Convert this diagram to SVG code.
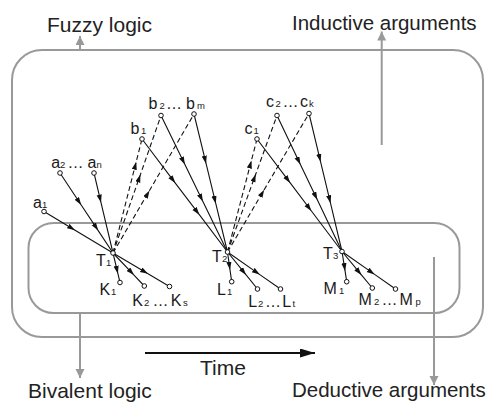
<svg xmlns="http://www.w3.org/2000/svg" width="500" height="408" viewBox="0 0 500 408">
<style>
.frame{fill:none;stroke:#999;stroke-width:2}
.garrow{fill:none;stroke:#999;stroke-width:2;marker-end:url(#gah)}
.edge{fill:none;stroke:#111;stroke-width:1.1;marker-mid:url(#ah)}
.dash{stroke-dasharray:5 3}
.node{fill:#fff;stroke:#111;stroke-width:1}
text{font-family:"Liberation Sans",Arial,sans-serif;fill:#1a1a1a}
.lbl{font-size:16px}
.sub{font-size:9.5px}
.big{font-size:21px;fill:#222}
.big2{font-size:20.5px;fill:#222}
</style>
<defs>
<marker id="ah" markerUnits="userSpaceOnUse" markerWidth="9" markerHeight="6" refX="8" refY="2.6" orient="auto">
<path d="M0,0 L8,2.6 L0,5.2 z" fill="#111"/>
</marker>
<marker id="gah" markerUnits="userSpaceOnUse" markerWidth="10" markerHeight="10" refX="9" refY="4.5" orient="auto">
<path d="M0,0 L9,4.5 L0,9 z" fill="#999"/>
</marker>
<marker id="tah" markerUnits="userSpaceOnUse" markerWidth="16" markerHeight="10" refX="15" refY="4.5" orient="auto">
<path d="M0,0 L15,4.5 L0,9 z" fill="#111"/>
</marker>
</defs>

<g id="fuzzy-frame">
<rect class="frame" x="12" y="50" width="471" height="287" rx="30" ry="30"/>
</g>
<g id="bivalent-frame">
<rect class="frame" x="28.5" y="223" width="431" height="90" rx="25" ry="25"/>
</g>

<g id="labels">
<text class="big" x="47" y="32">Fuzzy logic</text>
<text class="big2" x="292" y="29.5">Inductive arguments</text>
<text class="big" x="28" y="398">Bivalent logic</text>
<text class="big2" x="292" y="397">Deductive arguments</text>
<text class="big" x="200" y="375">Time</text>
</g>

<g id="connectors">
<line class="garrow" x1="80" y1="50" x2="80" y2="36"/>
<line class="garrow" x1="381.7" y1="145" x2="381.7" y2="31.5"/>
<line class="garrow" x1="80" y1="313" x2="80" y2="378"/>
<line class="garrow" x1="434" y1="257" x2="434" y2="385"/>
<line x1="145" y1="353" x2="315" y2="353" stroke="#111" stroke-width="2.2" marker-end="url(#tah)"/>

<path class="edge" d="M44,211.5 L75.05,230.2 L113,253"/>
<path class="edge" d="M60,173 L81.2,205 L98.2,230.6 L113,253"/>
<path class="edge" d="M94,173 L101,202.6 L113,253"/>
<path class="edge" d="M142,139 L175.3,183.1 L199.3,214.7 L227.5,252"/>
<path class="edge" d="M161,115.5 L184.9,164.6 L202.9,201.5 L227.5,252"/>
<path class="edge" d="M194,114 L206.1,163.7 L215.8,203.7 L227.5,252"/>
<path class="edge" d="M257,139 L290.2,182.9 L311.4,211 L342,251.5"/>
<path class="edge" d="M277,115.5 L300.4,164.5 L317.3,199.8 L342,251.5"/>
<path class="edge" d="M309,113.5 L320.6,161.8 L330.5,203.2 L342,251.5"/>

<path class="edge dash" d="M113,253 L136.2,161.8 L142,139"/>
<path class="edge dash" d="M113,253 L140.4,174.6 L161,115.5"/>
<path class="edge dash" d="M113,253 L149.5,190.5 L194,114"/>
<path class="edge dash" d="M227.5,252 L251.4,160.5 L257,139"/>
<path class="edge dash" d="M227.5,252 L255.7,174.2 L277,115.5"/>
<path class="edge dash" d="M227.5,252 L264.2,189.7 L309,113.5"/>

<path class="edge" d="M113,253 L117.9,273.7 L120,282.5"/>
<path class="edge" d="M113,253 L134,275.1 L144.3,286"/>
<path class="edge" d="M113,253 L148,273.8 L169.5,286.5"/>
<path class="edge" d="M227.5,252 L230,269.8 L231.7,281.7"/>
<path class="edge" d="M227.5,252 L246.1,274.9 L257.5,289"/>
<path class="edge" d="M227.5,252 L259.8,274.6 L280.5,289"/>
<path class="edge" d="M342,251.5 L345.1,271.1 L346.7,281.7"/>
<path class="edge" d="M342,251.5 L361.4,274.9 L372.3,288"/>
<path class="edge" d="M342,251.5 L374.6,274.4 L395.5,289"/>
</g>

<g id="a1"><circle class="node" cx="44" cy="211.5" r="2.3"/>
<text class="lbl" y="208"><tspan x="33">a</tspan><tspan class="sub" x="42">1</tspan></text></g>
<g id="a2"><circle class="node" cx="60" cy="173" r="2.3"/></g>
<g id="an"><circle class="node" cx="94" cy="173" r="2.3"/></g>
<g id="a-range-label"><text class="lbl" y="167.5"><tspan x="51.3">a</tspan><tspan class="sub" x="60">2</tspan><tspan x="67.5">…</tspan><tspan x="87.5">a</tspan><tspan class="sub" x="96.5">n</tspan></text></g>

<g id="b1"><circle class="node" cx="142" cy="139" r="2.3"/>
<text class="lbl" y="134"><tspan x="130.5">b</tspan><tspan class="sub" x="141">1</tspan></text></g>
<g id="b2"><circle class="node" cx="161" cy="115.5" r="2.3"/></g>
<g id="bm"><circle class="node" cx="194" cy="114" r="2.3"/></g>
<g id="b-range-label"><text class="lbl" y="109.3"><tspan x="148.5">b</tspan><tspan class="sub" x="159.5">2</tspan><tspan x="166">…</tspan><tspan x="186">b</tspan><tspan class="sub" x="197">m</tspan></text></g>

<g id="c1"><circle class="node" cx="257" cy="139" r="2.3"/>
<text class="lbl" y="133.5"><tspan x="244.5">c</tspan><tspan class="sub" x="253.5">1</tspan></text></g>
<g id="c2"><circle class="node" cx="277" cy="115.5" r="2.3"/></g>
<g id="ck"><circle class="node" cx="309" cy="113.5" r="2.3"/></g>
<g id="c-range-label"><text class="lbl" y="106.5"><tspan x="266">c</tspan><tspan class="sub" x="275.5">2</tspan><tspan x="282.5">…</tspan><tspan x="300">c</tspan><tspan class="sub" x="309">k</tspan></text></g>

<g id="T1"><circle class="node" cx="113" cy="253" r="2.3"/>
<text class="lbl" y="265.5"><tspan x="96">T</tspan><tspan class="sub" x="106">1</tspan></text></g>
<g id="T2"><circle class="node" cx="227.5" cy="252" r="2.3"/>
<text class="lbl" y="261.5"><tspan x="212">T</tspan><tspan class="sub" x="222">2</tspan></text></g>
<g id="T3"><circle class="node" cx="342" cy="251.5" r="2.3"/>
<text class="lbl" y="258.5"><tspan x="323">T</tspan><tspan class="sub" x="333">3</tspan></text></g>

<g id="K1"><circle class="node" cx="120" cy="282.5" r="2.3"/>
<text class="lbl" y="295"><tspan x="99.5">K</tspan><tspan class="sub" x="111">1</tspan></text></g>
<g id="K2"><circle class="node" cx="144.3" cy="286" r="2.3"/></g>
<g id="Ks"><circle class="node" cx="169.5" cy="286.5" r="2.3"/></g>
<g id="K-range-label"><text class="lbl" y="306"><tspan x="132.3">K</tspan><tspan class="sub" x="144">2</tspan><tspan x="152.5">…</tspan><tspan x="170.7">K</tspan><tspan class="sub" x="183">s</tspan></text></g>

<g id="L1"><circle class="node" cx="231.7" cy="281.7" r="2.3"/>
<text class="lbl" y="294.5"><tspan x="217">L</tspan><tspan class="sub" x="227">1</tspan></text></g>
<g id="L2"><circle class="node" cx="257.5" cy="289" r="2.3"/></g>
<g id="Lt"><circle class="node" cx="280.5" cy="289" r="2.3"/></g>
<g id="L-range-label"><text class="lbl" y="306.5"><tspan x="248.3">L</tspan><tspan class="sub" x="258">2</tspan><tspan x="265">…</tspan><tspan x="282.3">L</tspan><tspan class="sub" x="292.5">t</tspan></text></g>

<g id="M1"><circle class="node" cx="346.7" cy="281.7" r="2.3"/>
<text class="lbl" y="293.5"><tspan x="323.5">M</tspan><tspan class="sub" x="339">1</tspan></text></g>
<g id="M2"><circle class="node" cx="372.3" cy="288" r="2.3"/></g>
<g id="Mp"><circle class="node" cx="395.5" cy="289" r="2.3"/></g>
<g id="M-range-label"><text class="lbl" y="305"><tspan x="358.5">M</tspan><tspan class="sub" x="374">2</tspan><tspan x="381.5">…</tspan><tspan x="399.5">M</tspan><tspan class="sub" x="415.5">p</tspan></text></g>
</svg>
